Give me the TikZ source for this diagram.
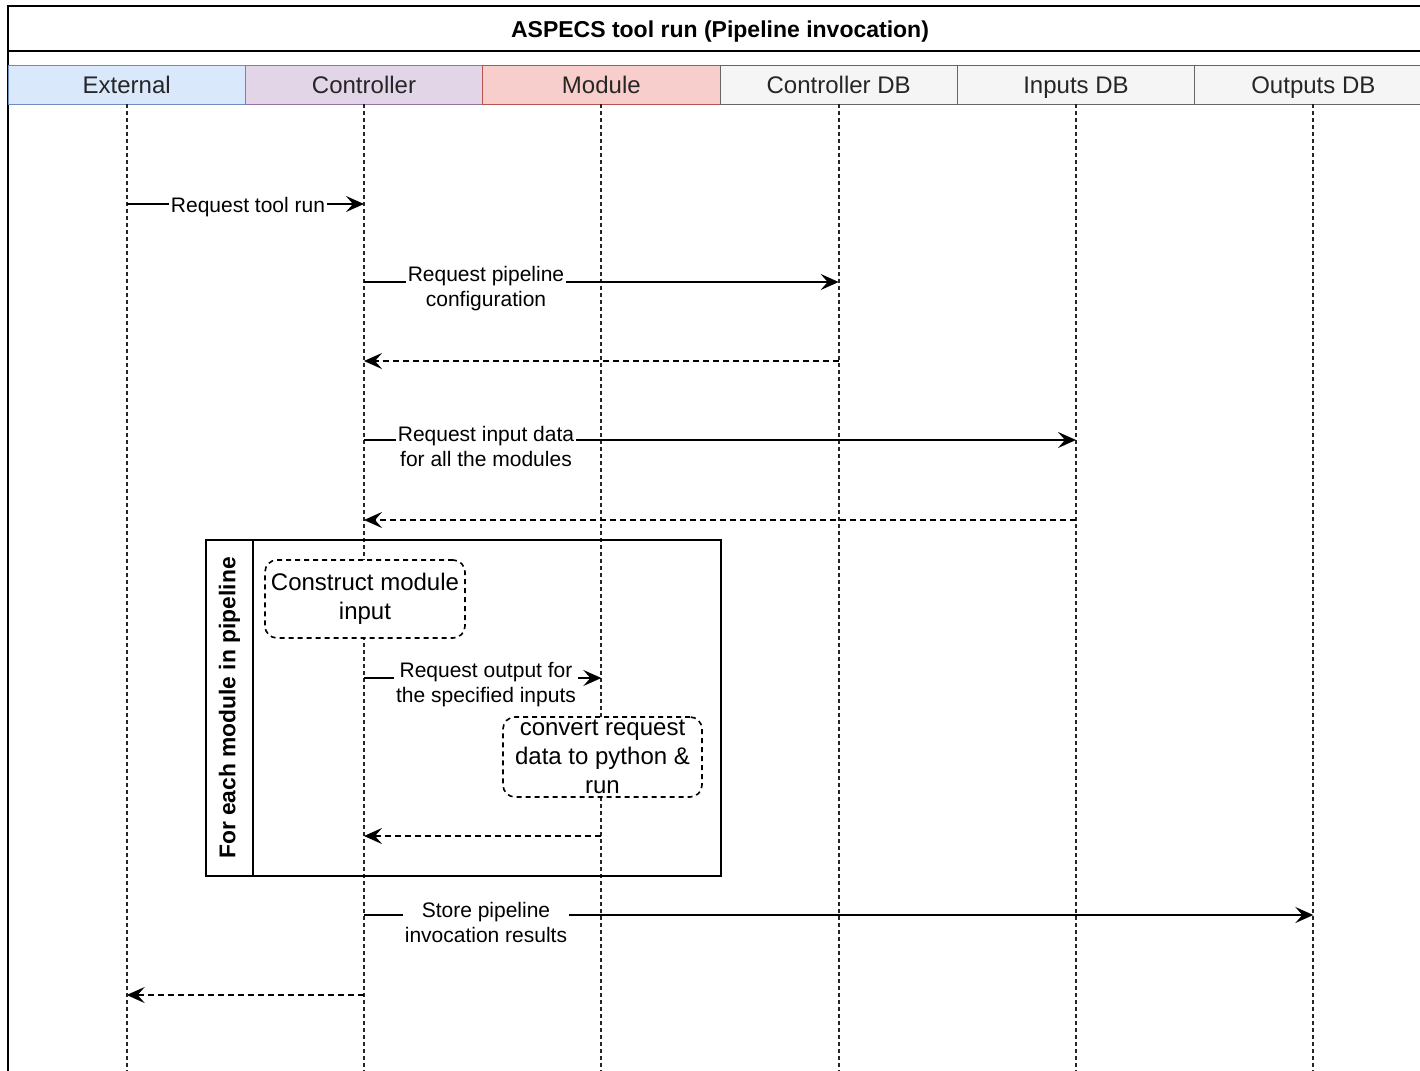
\documentclass[tikz,border=0pt]{standalone}
\usepackage{fontspec}
\setmainfont{Liberation Sans}
\usetikzlibrary{arrows.meta}

\definecolor{extfill}{HTML}{DAE8FC}
\definecolor{extdraw}{HTML}{6C8EBF}
\definecolor{ctlfill}{HTML}{E1D5E7}
\definecolor{ctldraw}{HTML}{9673A6}
\definecolor{modfill}{HTML}{F8CECC}
\definecolor{moddraw}{HTML}{B85450}
\definecolor{dbfill}{HTML}{F5F5F5}
\definecolor{dbdraw}{HTML}{666666}

\begin{document}
\begin{tikzpicture}[
    x=0.5pt, y=-0.5pt,
    >={Stealth[length=9pt, width=8pt, inset=3.5pt]},
    lane/.style={draw, minimum width=118.67pt, minimum height=19.5pt, inner sep=0pt,
                 text height=10.3pt, text depth=1.1pt,
                 text=black!85, font=\fontsize{12}{14}\selectfont},
    lifeline/.style={black!85, line width=1pt, dash pattern=on 2pt off 1.5pt},
    msg/.style={->, line width=1pt},
    reply/.style={->, line width=1pt, dash pattern=on 3pt off 2pt},
    lbl/.style={fill=white, inner sep=1pt, align=center, font=\fontsize{10.5}{12.5}\selectfont},
    act/.style={draw, fill=white, line width=0.8pt, dash pattern=on 2.5pt off 2pt,
                rounded corners=6pt, align=center, inner sep=0pt,
                font=\fontsize{12}{14.5}\selectfont},
    frame/.style={draw, line width=1pt}
]
    \useasboundingbox (0,0) rectangle (1420,1071);
    \clip (0,0) rectangle (1420,1071);

    % 外框与标题
    \draw[frame] (8,6) rectangle (1432,1100);
    \draw[frame] (8,51) -- (1432,51);
    \node[font=\fontsize{11.5}{14}\selectfont\bfseries] (title) at (720,32)
        {ASPECS tool run (Pipeline invocation)};

    % 泳道表头 (6个参与者)
    \node[lane, fill=extfill, draw=extdraw] (ext) at (126.67,84.5)  {External};
    \node[lane, fill=ctlfill, draw=ctldraw] (ctl) at (364,84.5)     {Controller};
    \node[lane, fill=modfill, draw=moddraw] (mod) at (601.33,84.5)  {Module};
    \node[lane, fill=dbfill, draw=dbdraw]   (cdb) at (838.67,84.5)  {Controller DB};
    \node[lane, fill=dbfill, draw=dbdraw]   (idb) at (1076,84.5)    {Inputs DB};
    \node[lane, fill=dbfill, draw=dbdraw]   (odb) at (1313.33,84.5) {Outputs DB};

    % 生命线
    \foreach \p in {ext, ctl, mod, cdb, idb, odb}
        \draw[lifeline] (\p.south) -- (\p |- 0,1080);

    % 1. 外部请求运行工具
    \draw[msg] (ext |- 0,204) -- (ctl |- 0,204);
    \node[lbl] (m1) at (248,207) {Request tool run};

    % 2. 请求流水线配置及返回
    \draw[msg] (ctl |- 0,282) -- (cdb |- 0,282);
    \node[lbl] (m2) at (486,289) {Request pipeline\\configuration};
    \draw[reply] (cdb |- 0,361) -- (ctl |- 0,361);

    % 3. 请求输入数据及返回
    \draw[msg] (ctl |- 0,440) -- (idb |- 0,440);
    \node[lbl] (m4) at (486,446) {Request input data\\for all the modules};
    \draw[reply] (idb |- 0,520) -- (ctl |- 0,520);

    % 4. 循环框
    \draw[line width=0.9pt] (206,540) rectangle (721,876);
    \draw[line width=0.9pt] (253,540) -- (253,876);
    \node[rotate=90, font=\fontsize{11.4}{14}\selectfont\bfseries] (loop) at (229.5,708)
        {For each module in pipeline};

    \node[act, minimum width=100pt, minimum height=39pt] (build) at (365,599)
        {Construct module\\input};
    \draw[msg] (ctl |- 0,678) -- (mod |- 0,678);
    \node[lbl] (m8) at (486,685) {Request output for\\the specified inputs};
    \node[act, minimum width=99.5pt, minimum height=40pt] (run) at (602.5,757)
        {convert request\\data to python \&\\run};
    \draw[reply] (mod |- 0,836) -- (ctl |- 0,836);

    % 5. 存储结果并返回
    \draw[msg] (ctl |- 0,915) -- (odb |- 0,915);
    \node[lbl] (m11) at (486,922) {Store pipeline\\invocation results};
    \draw[reply] (ctl |- 0,995) -- (ext |- 0,995);

\end{tikzpicture}
\end{document}
